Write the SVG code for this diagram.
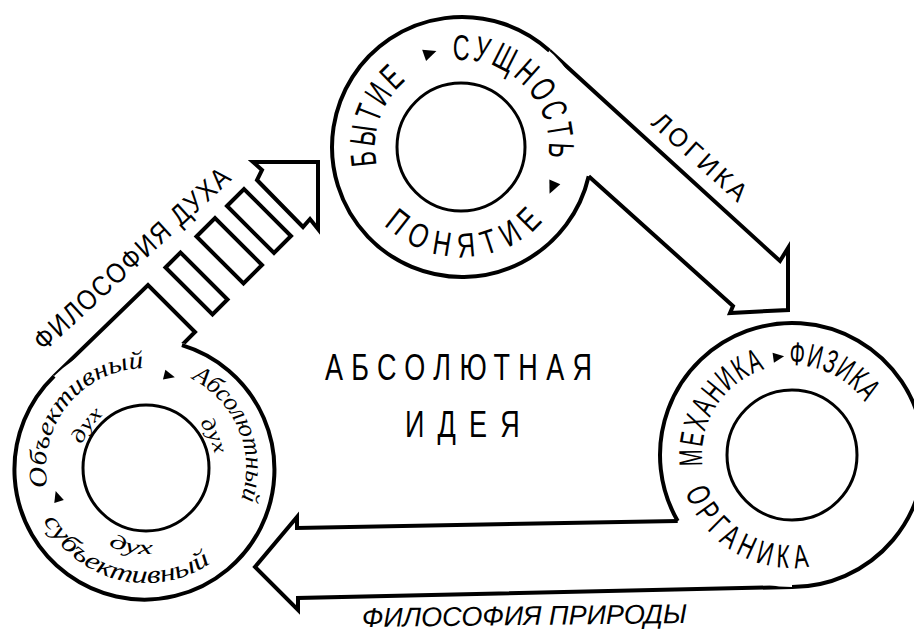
<svg xmlns="http://www.w3.org/2000/svg" width="914" height="636" viewBox="0 0 914 636">
<style>
.edge{fill:#fff;stroke:#000;stroke-width:4;stroke-linejoin:miter;stroke-miterlimit:10}
.disk{fill:#fff;stroke:none}
.rim{fill:none;stroke:#000;stroke-width:4}
.inner{fill:#fff;stroke:#000;stroke-width:3}
.cap{font-family:"Liberation Sans","DejaVu Sans",sans-serif;fill:#000}
.ital{font-family:"Liberation Serif","DejaVu Serif",serif;font-style:italic;fill:#000}
.tri{fill:#000}
</style>
<defs>
<polygon id="tri" points="-6,-6 7,0 -6,6"/>
<polygon id="tri-s" points="-5,-5 6,0 -5,5"/>
<path id="p-byt" d="M376.9 165.1 A87 87 0 0 1 406.1 80.4"/>
<path id="p-sush" d="M452.9 60.5 A87 87 0 0 1 548.3 157.6"/>
<path id="p-pon" d="M384.2 224.8 A110 110 0 0 0 545 219.2"/>
<path id="p-meh" d="M702.7 466 A90 90 0 0 1 764.2 369.4"/>
<path id="p-fiz" d="M788.9 365.1 A90 90 0 0 1 864.8 402.1"/>
<path id="p-org" d="M685.2 491.8 A113 113 0 0 0 809.7 566.6"/>
<path id="p-obj" d="M47.8 487.1 A100 100 0 0 1 146 368"/>
<path id="p-dux1" d="M82.1 444.7 A68 68 0 0 1 105.1 413.7"/>
<path id="p-abs" d="M191.4 378.9 A100 100 0 0 1 240.6 500.6"/>
<path id="p-dux2" d="M199.6 423 A70 70 0 0 1 214.9 455.8"/>
<path id="p-sub" d="M43.5 520.2 A115 115 0 0 0 212 562.2"/>
<path id="p-dux3" d="M108.3 545.3 A86 86 0 0 0 158 553.2"/>
</defs>
<rect width="914" height="636" fill="#fff"/>

<g id="connectors">
  <g id="arrow-logic">
    <path class="edge" d="M549.5 50.8 L780 261 L788 248 L788 310 L730 313 L733 306 L588.7 176.2"/>
    <text class="cap" font-size="26" letter-spacing="4" transform="translate(650,124) rotate(42)" textLength="122" lengthAdjust="spacingAndGlyphs">ЛОГИКА</text>
  </g>
  <g id="arrow-nature">
    <path class="edge" d="M677.7 521 L297 528 L297 517 L255 567 L298 610 L298 598 L792 587"/>
    <text class="cap" font-size="27" font-style="italic" transform="translate(362,627) rotate(-0.7)" textLength="325" lengthAdjust="spacingAndGlyphs">ФИЛОСОФИЯ  ПРИРОДЫ</text>
  </g>
  <g id="arrow-spirit">
    <path class="edge" d="M54.1 376.1 L148 285 L195 332 L181.9 345.1"/>
    <polygon class="edge" points="165.5,267.5 180.5,252.5 227.5,299.5 212.5,314.5"/>
    <polygon class="edge" points="196.5,236.5 215,218 262,265 243.5,283.5"/>
    <polygon class="edge" points="227,206 244,189 291,236 274,253"/>
    <polygon class="edge" points="253,162 318,162 318,229 310,219 303,227 257,180 262,170"/>
    <text class="cap" font-size="28" letter-spacing="2" transform="translate(44,352) rotate(-42.5)" textLength="257" lengthAdjust="spacingAndGlyphs">ФИЛОСОФИЯ ДУХА</text>
  </g>
</g>

<g id="node-logic">
  <circle class="disk" cx="462" cy="147" r="130"/>
  <path class="rim" d="M549.5 50.8 A130 130 0 1 0 588.7 176.2"/>
  <circle class="inner" cx="461" cy="147" r="64"/>
  <text class="cap" font-size="36" letter-spacing="5"><textPath href="#p-byt" textLength="97" lengthAdjust="spacingAndGlyphs">БЫТИЕ</textPath></text>
  <use href="#tri" class="tri" transform="translate(429.8,53.4) rotate(-19)"/>
  <text class="cap" font-size="36" letter-spacing="5"><textPath href="#p-sush" textLength="159" lengthAdjust="spacingAndGlyphs">СУЩНОСТЬ</textPath></text>
  <use href="#tri" class="tri" transform="translate(552.4,187.3) rotate(114)"/>
  <text class="cap" font-size="34" letter-spacing="12"><textPath href="#p-pon" textLength="186" lengthAdjust="spacingAndGlyphs">ПОНЯТИЕ</textPath></text>
</g>

<g id="node-nature">
  <circle class="disk" cx="792" cy="455" r="132"/>
  <path class="rim" d="M792 587 A132 132 0 1 0 677.7 521"/>
  <circle class="inner" cx="792" cy="455" r="65"/>
  <text class="cap" font-size="33" letter-spacing="3"><textPath href="#p-meh" textLength="126" lengthAdjust="spacingAndGlyphs">МЕХАНИКА</textPath></text>
  <use href="#tri-s" class="tri" transform="translate(778.2,357) rotate(-8)"/>
  <text class="cap" font-size="33" letter-spacing="2"><textPath href="#p-fiz" textLength="89" lengthAdjust="spacingAndGlyphs">ФИЗИКА</textPath></text>
  <text class="cap" font-size="33" letter-spacing="9"><textPath href="#p-org" textLength="163" lengthAdjust="spacingAndGlyphs">ОРГАНИКА</textPath></text>
</g>

<g id="node-spirit">
  <circle class="disk" cx="146" cy="468" r="130"/>
  <path class="rim" d="M54.1 376.1 A130 130 0 1 0 181.9 345.1"/>
  <circle class="inner" cx="146" cy="468" r="63"/>
  <text class="ital" font-size="25"><textPath href="#p-obj" textLength="174" lengthAdjust="spacingAndGlyphs">Объективный</textPath></text>
  <text class="ital" font-size="20"><textPath href="#p-dux1" textLength="37" lengthAdjust="spacingAndGlyphs">дух</textPath></text>
  <use href="#tri-s" class="tri" transform="translate(169,375.8) rotate(14)"/>
  <text class="ital" font-size="25"><textPath href="#p-abs" textLength="142" lengthAdjust="spacingAndGlyphs">Абсолютный</textPath></text>
  <text class="ital" font-size="20"><textPath href="#p-dux2" textLength="35" lengthAdjust="spacingAndGlyphs">дух</textPath></text>
  <use href="#tri-s" class="tri" transform="translate(57.5,496.7) rotate(252)"/>
  <text class="ital" font-size="25"><textPath href="#p-sub" textLength="195" lengthAdjust="spacingAndGlyphs">субъективный</textPath></text>
  <text class="ital" font-size="20"><textPath href="#p-dux3" textLength="46" lengthAdjust="spacingAndGlyphs">дух</textPath></text>
</g>

<g id="node-idea">
  <text class="cap" font-size="36" transform="translate(325,380) scale(0.75,1)" textLength="356" lengthAdjust="spacing">АБСОЛЮТНАЯ</text>
  <text class="cap" font-size="36" transform="translate(405,437) scale(0.75,1)" textLength="153" lengthAdjust="spacing">ИДЕЯ</text>
</g>
</svg>
